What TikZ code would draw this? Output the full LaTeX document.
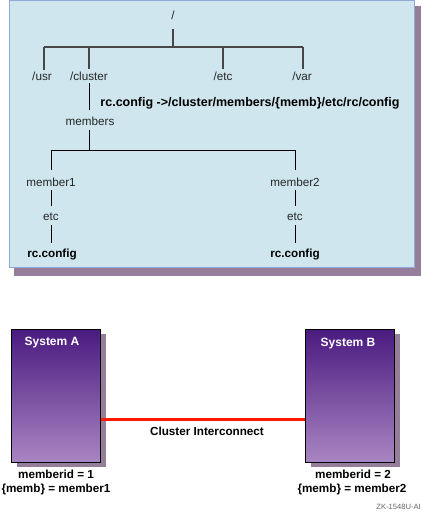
\documentclass[tikz,border=0pt]{standalone}
\usepackage{fontspec}
\setmainfont{Liberation Sans}
\usetikzlibrary{calc}
\definecolor{boxfill}{HTML}{CFE6EE}
\definecolor{boxedge}{HTML}{8EA9D8}
\definecolor{shadowc}{HTML}{957E99}
\definecolor{ptop}{HTML}{4A1A80}
\definecolor{pbot}{HTML}{A985C2}
\definecolor{linkred}{HTML}{FF1A00}
\begin{document}
\begin{tikzpicture}[x=1pt,y=-1pt,
  lbl/.style={font=\fontsize{11.7}{12}\selectfont, inner sep=0pt, text height=8.4pt, text depth=0pt, text=black!85},
  blbl/.style={font=\fontsize{11.7}{12}\selectfont\bfseries, inner sep=0pt, text height=8.4pt, text depth=0pt},
  treetop/.style={line width=1.6pt, draw=black!72},
  treelow/.style={line width=0.9pt, draw=black},
  sysbox/.style={draw=black, line width=1pt, minimum width=89pt, minimum height=133pt, inner sep=0pt, top color=ptop, bottom color=pbot},
  sysshadow/.style={fill=shadowc, minimum width=89pt, minimum height=133pt, inner sep=0pt},
  systitle/.style={font=\fontsize{12}{12}\selectfont\bfseries, text=white, inner sep=0pt, text height=8.4pt, text depth=0pt}]
\useasboundingbox (0,0) rectangle (422,512);
% top panel
\fill[shadowc] (14,6) rectangle (421,276);
\draw[boxedge, fill=boxfill, line width=1.2pt] (9.6,0.6) rectangle (414.6,267.3);
% nodes
\node[lbl] (root) at (173,15) {/};
\node[lbl] (usr) at (42,76) {/usr};
\node[lbl] (cluster) at (89,76) {/cluster};
\node[lbl] (etc) at (223,76) {/etc};
\node[lbl] (var) at (302,76) {/var};
\node[blbl, font=\fontsize{12.5}{13}\selectfont\bfseries] (link) at (250,102) {rc.config ->/cluster/members/\{memb\}/etc/rc/config};
\node[lbl] (members) at (90,121) {members};
\node[lbl] (m1) at (51,182) {member1};
\node[lbl] (m2) at (295,182) {member2};
\node[lbl] (e1) at (51,216) {etc};
\node[lbl] (e2) at (295,216) {etc};
\node[blbl] (r1) at (52,253) {rc.config};
\node[blbl] (r2) at (295,253) {rc.config};
% junctions
\coordinate (j0) at (173,47);
\coordinate (j0l) at (44,47);
\coordinate (j0r) at (303,47);
\coordinate (j1) at (89,150);
\coordinate (j1l) at (51,150);
\coordinate (j1r) at (295,150);
% top tree
\draw[treetop] ($(root)+(0,14)$) -- (j0);
\draw[treetop] (j0l) -- (j0r);
\draw[treetop] (j0l) -- ($(usr)+(2,-6)$);
\draw[treetop] (j0 -| cluster) -- ($(cluster)+(0,-7)$);
\draw[treetop] (j0 -| etc) -- ($(etc)+(0,-7)$);
\draw[treetop] (j0r) -- ($(var)+(1,-7)$);
\draw[treelow] ($(cluster)+(0,7)$) -- ($(members)+(-1,-11)$);
\draw[treelow] ($(members)+(-1,9)$) -- (j1);
\draw[treelow] (j1l) -- (j1r);
\draw[treelow] (j1l) -- ($(m1)+(0,-12)$);
\draw[treelow] (j1r) -- ($(m2)+(0,-12)$);
\draw[treelow] ($(m1)+(0,8)$) -- ($(e1)+(0,-10)$);
\draw[treelow] ($(m2)+(0,8)$) -- ($(e2)+(0,-10)$);
\draw[treelow] ($(e1)+(0,9)$) -- ($(r1)+(-1,-10)$);
\draw[treelow] ($(e2)+(0,9)$) -- ($(r2)+(0,-10)$);
% bottom systems
\node[sysshadow] (As) at (61.5,400.5) {};
\node[sysshadow] (Bs) at (355.5,400.5) {};
\node[sysbox] (A) at (55.5,395.5) {};
\node[sysbox] (B) at (349.5,395.5) {};
\node[systitle] (At) at (52,341) {System A};
\node[systitle] (Bt) at (348,342) {System B};
\draw[linkred, line width=3pt] ($(A.east)+(0,23.5)$) -- ($(B.west)+(0,23.5)$);
\node[blbl] (ci) at (207,431) {Cluster Interconnect};
\node[blbl] (a1) at (56,474) {memberid = 1};
\node[blbl] (a2) at (56,488) {\{memb\} = member1};
\node[blbl] (b1) at (353,474) {memberid = 2};
\node[blbl] (b2) at (352,488) {\{memb\} = member2};
\node[font=\fontsize{7.6}{8}\selectfont, text=black!60, inner sep=0pt, anchor=east] (zk) at (421,507) {ZK-1548U-AI};
\end{tikzpicture}
\end{document}
